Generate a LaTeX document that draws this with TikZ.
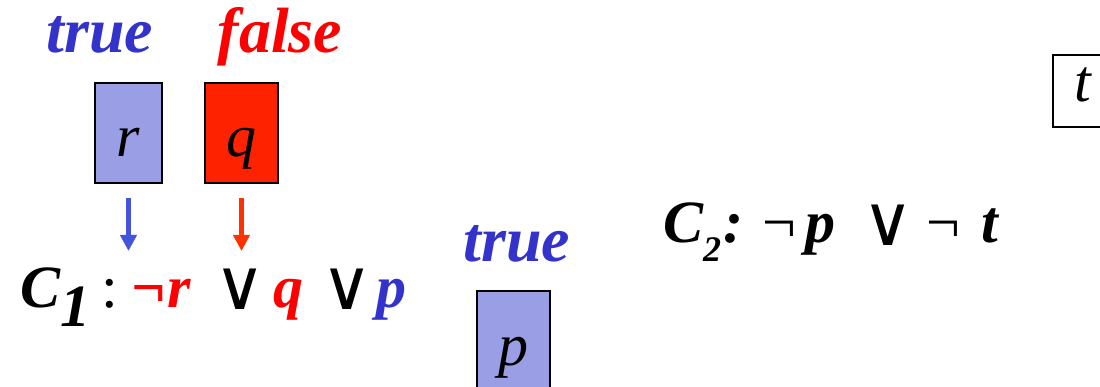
\documentclass[tikz,border=0pt]{standalone}
\usepackage{fontspec}
\setmainfont{Liberation Serif}
\newfontfamily\orfont{DejaVu Sans}
\usetikzlibrary{arrows.meta}

\definecolor{truefill}{HTML}{999EE5}
\definecolor{falsefill}{HTML}{FF2200}
\definecolor{trueblue}{HTML}{3333CC}
\definecolor{falsered}{HTML}{FF0000}
\definecolor{arrowblue}{HTML}{4455DD}
\definecolor{arrowred}{HTML}{FF3300}

\begin{document}
\begin{tikzpicture}[x=1pt, y=-1pt,
          every node/.style={inner sep=0pt, font=\fontsize{60}{72}\selectfont},
          varbox/.style={draw, line width=2pt, text height=74pt, text depth=26pt,
            font=\fontsize{60}{72}\selectfont\itshape},
          truth/.style={anchor=base, font=\fontsize{64}{72}\selectfont\bfseries\itshape},
          lit/.style={anchor=base west, font=\fontsize{60}{72}\selectfont\bfseries\itshape},
          orsym/.style={anchor=base west, font=\fontsize{70}{72}\selectfont\orfont},
          boldor/.style={orsym, font=\fontsize{70}{72}\selectfont\orfont\itshape},
          assign/.style={line width=5pt, -{Triangle[width=16pt,length=16pt]}, shorten <=14pt}
        ]
        \useasboundingbox (0,0) rectangle (1100,387);

        % Truth values
        \node[truth, trueblue] (rval) at (100,53) {true};
        \node[truth, falsered] (qval) at (280,53) {false};
        \node[truth, trueblue] (pval) at (517,262) {true};

        % Variable boxes
        \node[varbox, fill=truefill, minimum width=67pt] (r) at (128.5,133) {r};
        \node[varbox, fill=falsefill, minimum width=73pt] (q) at (241.5,133) {q};
        \node[varbox, fill=truefill, minimum width=73pt] (p) at (513,341) {p};
        \node[varbox, text height=47pt, text depth=25pt, minimum width=60pt] (t) at (1083,91) {t};

        % Assignment arrows
        \coordinate (rtip) at (128.5,251);
        \coordinate (qtip) at (241.5,251);
        \draw[assign, arrowblue] (r) -- (rtip);
        \draw[assign, arrowred] (q) -- (qtip);

        % Clause C1
        \node[lit] (c1) at (20,308) {C\raisebox{-19pt}{1}};
        \node[anchor=base west] (c1colon) at (101,308) {:};
        \node[lit, falsered] (negr) at (131,308) {¬r};
        \node[boldor] (or1) at (214,309) {∨};
        \node[lit, falsered] (litq) at (273,308) {q};
        \node[boldor] (or2) at (321,309) {∨};
        \node[lit, trueblue] (litp) at (376,308) {p};

        % Clause C2
        \node[lit] (c2) at (663,243) {C\raisebox{-19pt}{\fontsize{36}{40}\selectfont 2}\kern2pt:};
        \node[anchor=base west] (neg1) at (762,243) {¬};
        \node[lit] (c2p) at (805,243) {p};
        \node[orsym] (c2or) at (862,246) {∨};
        \node[anchor=base west] (neg2) at (926,243) {¬};
        \node[lit] (c2t) at (981,243) {t};

      \end{tikzpicture}
\end{document}
